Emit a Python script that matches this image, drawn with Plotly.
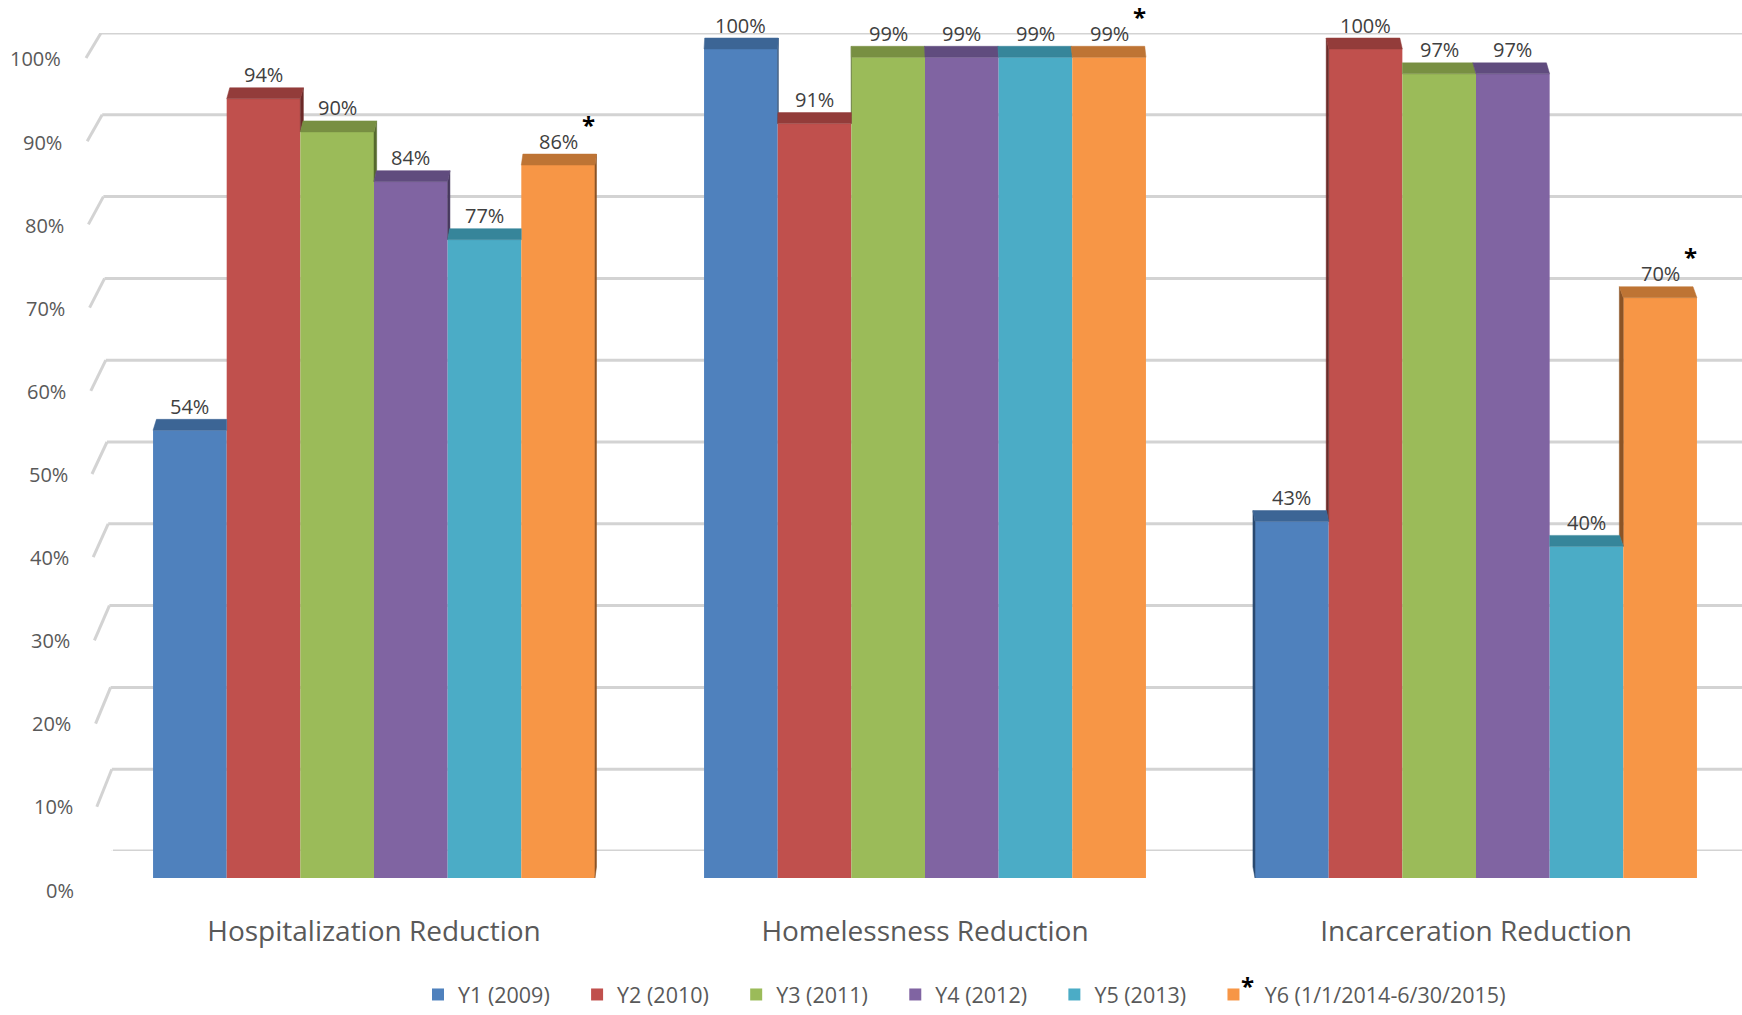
import plotly.graph_objects as go

# ---- data -------------------------------------------------------------
categories = ["Hospitalization Reduction", "Homelessness Reduction", "Incarceration Reduction"]
series_names = ["Y1 (2009)", "Y2 (2010)", "Y3 (2011)", "Y4 (2012)", "Y5 (2013)",
                "Y6 (1/1/2014-6/30/2015)"]
y1_2009 = [54, 100, 43]
y2_2010 = [94, 91, 100]
y3_2011 = [90, 99, 97]
y4_2012 = [84, 99, 97]
y5_2013 = [77, 99, 40]
y6_2014_15 = [86, 99, 70]
series_values = [y1_2009, y2_2010, y3_2011, y4_2012, y5_2013, y6_2014_15]
starred_series = [False, False, False, False, False, True]
tick_values = [0, 10, 20, 30, 40, 50, 60, 70, 80, 90, 100]
tick_labels = [f"{t}%" for t in tick_values]

# ---- styling ----------------------------------------------------------
front_colors = ["#4F81BD", "#C0504D", "#9BBB59", "#8064A2", "#4BACC6", "#F79646"]
top_colors = ["#3C6595", "#933C3A", "#788F42", "#604C7E", "#36859A", "#BE7434"]
side_colors = ["#2A4A70", "#6C2A28", "#566A2E", "#47385E", "#266273", "#8C5426"]

W, H = 1742, 1015
FONT = "Open Sans"
TEXT_GREY = "#595959"
NBSP = "\u00a0"

FRONT_PX = (878, 49)   # pixel rows of 0% and 100% on the bar fronts
GRID_PX = (851, 33)    # pixel rows of 0% and 100% on the back wall
LABEL_PX = (890, 59)   # pixel rows of the 0% and 100% axis labels


def domain(px):
    return [1 - px[0] / H, 1 - px[1] / H]


# the bar axis runs to the top edge so the top faces of 100% bars stay visible
front_per_unit = (FRONT_PX[0] - FRONT_PX[1]) / 100
front_top = FRONT_PX[0] / front_per_unit

X_CENTER0, X_STEP = 374, 551
x_range = [-X_CENTER0 / X_STEP, (W - X_CENTER0) / X_STEP]
BARGAP = 0.198
n_series = len(series_values)
bar_w = (1 - BARGAP) / n_series
depth = 11 / front_per_unit   # top-face depth in value units


def lateral(cx):
    """Horizontal shift of the back edge of a bar (simple perspective)."""
    px = X_CENTER0 + cx * X_STEP
    return -0.005 * (px - 870) / X_STEP


def legend_label(i, name):
    if starred_series[i]:
        return NBSP * 2 + name
    return name + NBSP * 4


fig = go.Figure()

# front faces
for i, (name, vals) in enumerate(zip(series_names, series_values)):
    fig.add_trace(go.Bar(
        x=list(range(len(categories))), y=vals, name=legend_label(i, name),
        marker=dict(color=front_colors[i], line=dict(width=0)),
        hoverinfo="skip",
    ))

# side and top faces of the bars
side_traces, top_traces = [], []
for i, vals in enumerate(series_values):
    sx, sy, tx, ty = [], [], [], []
    for g, v in enumerate(vals):
        xl = g + (i - n_series / 2) * bar_w
        xr = xl + bar_w
        dx = lateral((xl + xr) / 2)
        xs = [xl, xr, xr + dx, xl + dx]
        ys = [v, v, v + depth, v + depth]
        if dx > 0 and i < n_series - 1 and series_values[i + 1][g] > v:
            xs[2] = xr
        if dx < 0 and i > 0 and series_values[i - 1][g] > v:
            xs[3] = xl
        tx += xs + [xs[0], None]
        ty += ys + [ys[0], None]
        if dx > 0:
            lo = series_values[i + 1][g] if i < n_series - 1 else 0
            edge = xr
        else:
            lo = series_values[i - 1][g] if i > 0 else 0
            edge = xl
        if lo < v:
            sx += [edge, edge + dx, edge + dx, edge, edge, None]
            sy += [lo, lo + depth, v + depth, v, lo, None]
    side_traces.append(go.Scatter(
        x=sx, y=sy, mode="lines", fill="toself", fillcolor=side_colors[i],
        line=dict(color=side_colors[i], width=0.5), showlegend=False, hoverinfo="skip"))
    top_traces.append(go.Scatter(
        x=tx, y=ty, mode="lines", fill="toself", fillcolor=top_colors[i],
        line=dict(color=top_colors[i], width=0.5), showlegend=False, hoverinfo="skip"))
for t in side_traces + top_traces:
    fig.add_trace(t)

annotations = []
# value labels
for i, vals in enumerate(series_values):
    for g, v in enumerate(vals):
        cx = g + (i - n_series / 2 + 0.5) * bar_w
        annotations.append(dict(
            x=cx, y=v, xref="x", yref="y", text=f"{v}%", showarrow=False,
            yshift=24, font=dict(family=FONT, size=20, color="#404040")))
        if starred_series[i]:
            annotations.append(dict(
                x=cx, y=v, xref="x", yref="y", text="<b>*</b>", showarrow=False,
                xshift=30, yshift=41, font=dict(family=FONT, size=24, color="#000000")))

# axis labels on the slanted side wall, gridlines on the back wall
shapes = []
grid_line = dict(color="#D3D3D3", width=3)
for t, lab in zip(tick_values, tick_labels):
    f = 1 - t / 100
    annotations.append(dict(
        x=(63 + 13 * f) / W, y=t, xref="paper", yref="y3", text=lab,
        xanchor="right", showarrow=False,
        font=dict(family=FONT, size=20, color=TEXT_GREY)))
    x_corner = (101 + 12 * f) / W
    x_foot = (86 + 12 * f) / W
    drop = 39 - 0.14 * t
    shapes.append(dict(type="line", xref="paper", yref="y2", x0=x_corner, x1=1,
                       y0=t, y1=t, line=grid_line, layer="below"))
    shapes.append(dict(type="line", xref="paper", yref="y2", ysizemode="pixel",
                       yanchor=t, x0=x_foot, x1=x_corner, y0=-drop, y1=0,
                       line=grid_line, layer="below"))

# asterisk on the last legend entry
annotations.append(dict(
    x=1256 / W, y=1 - 1004 / H, xref="paper", yref="paper", text="<b>*</b>",
    showarrow=False, font=dict(family=FONT, size=24, color="#000000")))

fig.update_layout(
    width=W, height=H,
    margin=dict(l=0, r=0, t=0, b=0),
    paper_bgcolor="white", plot_bgcolor="rgba(0,0,0,0)",
    barmode="group", bargap=BARGAP, bargroupgap=0,
    font=dict(family=FONT, color=TEXT_GREY),
    xaxis=dict(range=x_range, domain=[0, 1], tickvals=list(range(len(categories))),
               ticktext=categories, ticks="", showgrid=False, zeroline=False,
               showline=False, ticklabelstandoff=34, automargin=False,
               tickfont=dict(family=FONT, size=28, color=TEXT_GREY)),
    yaxis=dict(range=[0, front_top], domain=[1 - FRONT_PX[0] / H, 1], visible=False),
    yaxis2=dict(range=[0, 100], domain=domain(GRID_PX), visible=False, anchor="x"),
    yaxis3=dict(range=[0, 100], domain=domain(LABEL_PX), visible=False, anchor="x"),
    legend=dict(orientation="h", x=418 / W, xanchor="left", y=0,
                yanchor="bottom", font=dict(family=FONT, size=21.5, color=TEXT_GREY),
                traceorder="normal", bgcolor="rgba(0,0,0,0)"),
    annotations=annotations,
    shapes=shapes,
    showlegend=True,
)

fig.write_html("out.html")
